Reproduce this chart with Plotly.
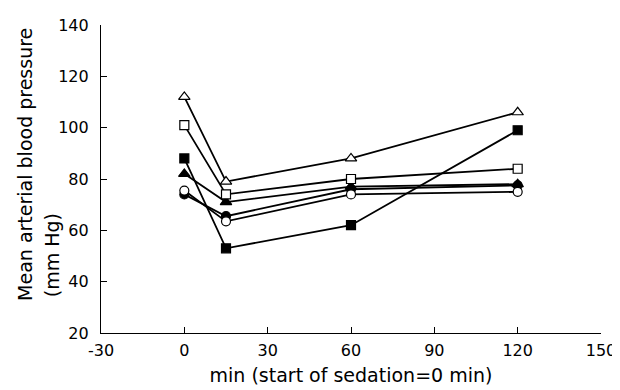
import plotly.graph_objects as go

times = [0, 15, 60, 120]
open_triangle = [112, 79, 88, 106]
open_square = [101, 74, 80, 84]
filled_square = [88, 53, 62, 99]
filled_triangle = [82, 71, 77, 78]
filled_circle = [74, 65.5, 76, 77.5]
open_circle = [75.5, 63.5, 74, 75]

x_ticks = [-30, 0, 30, 60, 90, 120, 150]
x_tick_labels = ["-30", "0", "30", "60", "90", "120", "150"]
y_ticks = [20, 40, 60, 80, 100, 120, 140]

series = [
    ("filled triangle", filled_triangle, "triangle-up", "black"),
    ("filled circle", filled_circle, "circle", "black"),
    ("open circle", open_circle, "circle", "white"),
    ("filled square", filled_square, "square", "black"),
    ("open square", open_square, "square", "white"),
    ("open triangle", open_triangle, "triangle-up", "white"),
]

fig = go.Figure()
for name, vals, sym, fill in series:
    fig.add_trace(go.Scatter(
        x=times, y=vals, name=name, mode="lines+markers",
        line=dict(color="black", width=1.8),
        marker=dict(symbol=sym, size=10 if "triangle" in sym else 9,
                    color=fill, line=dict(color="black", width=1.2)),
    ))

W, H = 620, 390
L, R, T, B = 93, 27, 8, 65
font = "DejaVu Sans, Liberation Sans, sans-serif"
fig.update_layout(
    width=W, height=H,
    margin=dict(l=L, r=R, t=T, b=B),
    paper_bgcolor="white", plot_bgcolor="white",
    showlegend=False,
    font=dict(family=font, size=16, color="black"),
    xaxis=dict(range=[-30, 150], tickvals=x_ticks, ticktext=x_tick_labels,
               ticks="inside", ticklen=6, ticklabeloverflow="allow",
               showline=True, linecolor="black", linewidth=1.2, showgrid=False,
               zeroline=False, tickcolor="black", tickfont=dict(size=16),
               ticklabelstandoff=3,
               title=dict(text="min (start of sedation=0 min)", font=dict(size=19), standoff=9)),
    yaxis=dict(range=[20, 140], tickvals=y_ticks, ticks="inside", ticklen=6,
               ticklabeloverflow="allow",
               showline=True, linecolor="black", linewidth=1.2, showgrid=False,
               zeroline=False, tickcolor="black", tickfont=dict(size=16),
               ticklabelstandoff=8),
    annotations=[
        dict(text="Mean arterial blood pressure", x=17, y=152, xref="paper", yref="paper",
             textangle=-90, showarrow=False,
             xanchor="center", yanchor="middle", font=dict(size=19)),
        dict(text="(mm Hg)", x=44, y=245, xref="paper", yref="paper",
             textangle=-90, showarrow=False,
             xanchor="center", yanchor="middle", font=dict(size=19)),
    ],
)
# convert pixel positions of the y-title annotations to paper coordinates
pw, ph = W - L - R, H - T - B
for a in fig.layout.annotations:
    a.x = (a.x - L) / pw
    a.y = (H - B - a.y) / ph

fig.write_html("out.html")
